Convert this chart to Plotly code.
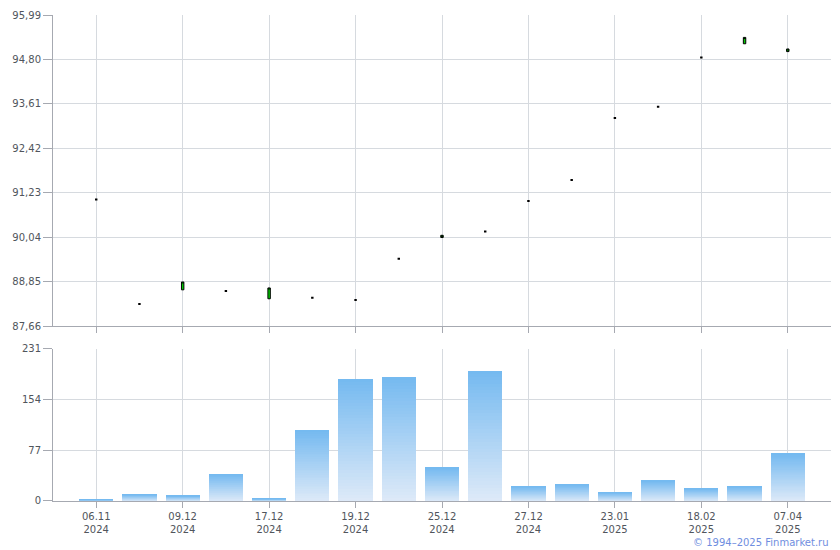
import plotly.graph_objects as go

# ---- data ----
x_idx = list(range(17))
x_tick_labels = ["06.11<br>2024", "09.12<br>2024", "17.12<br>2024", "19.12<br>2024",
                 "25.12<br>2024", "27.12<br>2024", "23.01<br>2025", "18.02<br>2025",
                 "07.04<br>2025"]
opens = [91.05, 88.25, 88.63, 88.60, 88.39, 88.42, 88.36, 89.46, 90.03,
         90.19, 91.01, 91.57, 93.23, 93.53, 94.85, 95.22, 95.01]
closes = [91.05, 88.25, 88.84, 88.60, 88.68, 88.42, 88.36, 89.46, 90.09,
          90.19, 91.01, 91.57, 93.23, 93.53, 94.85, 95.39, 95.08]
volumes = [2, 10, 8, 41, 3.5, 108, 186, 189, 51, 198, 22, 25, 13, 31, 19, 22, 72]
price_ticks = [87.66, 88.85, 90.04, 91.23, 92.42, 93.61, 94.80, 95.99]
price_tick_labels = ["87,66", "88,85", "90,04", "91,23", "92,42", "93,61", "94,80", "95,99"]
vol_ticks = [0, 77, 154, 231]

# ---- styles ----
GRID = "#d6dadf"
AXIS = "#a6a9b1"
TXT = "#50555c"
FONT = "DejaVu Sans"

fig = go.Figure()

# flat (doji) candles
flat = [o == c for o, c in zip(opens, closes)]
def pick(vals, mask):
    return [v if m else None for v, m in zip(vals, mask)]

fo = pick(opens, flat)
fc = pick(closes, flat)
fig.add_trace(go.Candlestick(
    x=x_idx, open=fo, close=fc,
    high=fo, low=fo,
    increasing=dict(line=dict(color="black", width=2), fillcolor="black"),
    decreasing=dict(line=dict(color="black", width=2), fillcolor="black"),
    whiskerwidth=0, xaxis="x", yaxis="y", hoverinfo="skip", showlegend=False))

moving = [not f for f in flat]
mo = pick(opens, moving)
mc = pick(closes, moving)
mh = [max(o, c) if m else None for o, c, m in zip(opens, closes, moving)]
ml = [min(o, c) if m else None for o, c, m in zip(opens, closes, moving)]
fig.add_trace(go.Candlestick(
    x=x_idx, open=mo, close=mc, high=mh, low=ml,
    increasing=dict(line=dict(color="black", width=1), fillcolor="#00cc00"),
    decreasing=dict(line=dict(color="black", width=1), fillcolor="#cc0000"),
    whiskerwidth=0, xaxis="x", yaxis="y", hoverinfo="skip", showlegend=False))

# gradient volume bars (stacked bands)
N = 40
top_rgb = (116, 185, 240)
bot_rgb = (222, 234, 248)
for k in range(N):
    t = (k + 0.5) / N
    col = tuple(round(b + (tp - b) * t) for b, tp in zip(bot_rgb, top_rgb))
    fig.add_trace(go.Bar(
        x=x_idx, y=[v / N for v in volumes],
        marker=dict(color="rgb(%d,%d,%d)" % col, line=dict(width=0)),
        xaxis="x2", yaxis="y2", hoverinfo="skip", showlegend=False))

common_x = dict(
    range=[-1, 17], tickmode="array", tickvals=x_idx[::2],
    showgrid=True, gridcolor=GRID, gridwidth=1,
    showline=True, linecolor=AXIS, linewidth=1,
    ticks="outside", ticklen=6, tickcolor=AXIS,
    zeroline=False, fixedrange=True,
    tickfont=dict(family=FONT, size=10, color=TXT),
)

fig.update_layout(
    width=840, height=550,
    margin=dict(l=53, r=9, t=15, b=49),
    paper_bgcolor="white", plot_bgcolor="white",
    barmode="stack", bargap=0.21, boxgap=0.92,
    showlegend=False,
    xaxis=dict(**common_x, anchor="y", domain=[0, 1], showticklabels=False,
               rangeslider=dict(visible=False)),
    yaxis=dict(domain=[0.36, 1], range=[price_ticks[0], price_ticks[-1]],
               tickmode="array", tickvals=price_ticks, ticktext=price_tick_labels,
               showgrid=True, gridcolor=GRID, showline=True, linecolor=AXIS,
               ticks="outside", ticklen=9, tickcolor=AXIS, zeroline=False,
               tickfont=dict(family=FONT, size=10, color=TXT), fixedrange=True),
    xaxis2=dict(**common_x, anchor="y2", domain=[0, 1],
                ticktext=x_tick_labels),
    yaxis2=dict(domain=[0, 0.3128], range=[0, vol_ticks[-1]],
                tickmode="array", tickvals=vol_ticks,
                showgrid=True, gridcolor=GRID, showline=True, linecolor=AXIS,
                ticks="outside", ticklen=9, tickcolor=AXIS, zeroline=False,
                tickfont=dict(family=FONT, size=10, color=TXT), fixedrange=True),
    annotations=[dict(text="© 1994–2025 Finmarket.ru", xref="paper", yref="paper",
                      x=1.0, y=-0.085, xanchor="right", yanchor="middle",
                      showarrow=False,
                      font=dict(family=FONT, size=10, color="#6f8ee0"))],
)

fig.write_html("out.html", config=dict(displayModeBar=False),
               post_script="document.body.style.margin='0';document.body.style.overflow='hidden';")
